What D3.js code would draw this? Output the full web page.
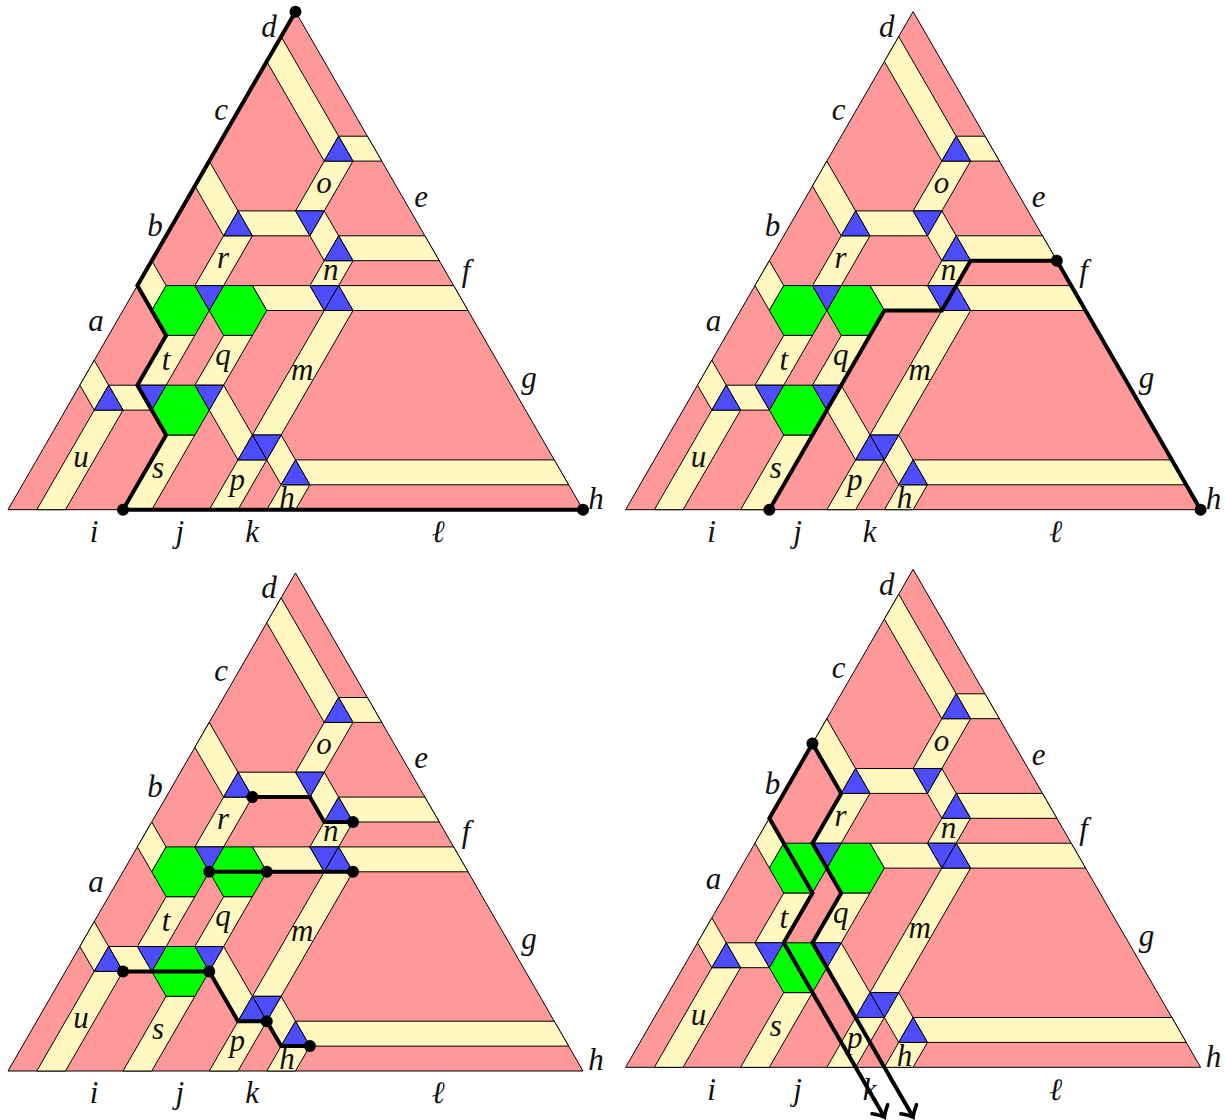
<!DOCTYPE html>
<html>
<head>
<meta charset="utf-8">
<script src="https://cdn.jsdelivr.net/npm/d3@7"></script>
<style>
  html, body { margin: 0; padding: 0; background: #fff; overflow: hidden; }
  text { font-family: 'Liberation Serif', serif; font-style: italic; font-size: 31px; fill: #111; }
</style>
</head>
<body>
<div id="chart"></div>
<script>
// all regions are given in triangular lattice coordinates [i, j], side of the big triangle is 20
const outerTriangle = [[0, 0], [20, 0], [0, 20]]

const creamBands = [
  [[1, 0], [2, 0], [2, 4], [1, 4]],
  [[0, 5], [0, 6], [1, 5], [1, 4]],
  [[1, 5], [2, 5], [3, 4], [2, 4]],
  [[4, 0], [5, 0], [5, 3], [4, 3]],
  [[2, 5], [3, 5], [3, 7], [2, 7]],
  [[4, 5], [5, 5], [5, 7], [4, 7]],
  [[0, 9], [0, 10], [1, 9], [1, 8]],
  [[2, 9], [3, 9], [3, 11], [2, 11]],
  [[0, 13], [0, 14], [2, 12], [2, 11]],
  [[2, 12], [4, 12], [5, 11], [3, 11]],
  [[4, 12], [5, 12], [5, 14], [4, 14]],
  [[4, 15], [5, 15], [6, 14], [5, 14]],
  [[0, 18], [0, 19], [4, 15], [4, 14]],
  [[5, 12], [6, 11], [6, 10], [5, 11]],
  [[6, 11], [9, 11], [10, 10], [7, 10]],
  [[6, 9], [7, 9], [7, 10], [6, 10]],
  [[7, 9], [11, 9], [12, 8], [8, 8]],
  [[4, 9], [6, 9], [7, 8], [5, 8]],
  [[7, 3], [8, 3], [8, 8], [7, 8]],
  [[7, 0], [8, 0], [8, 2], [7, 2]],
  [[5, 5], [7, 3], [7, 2], [5, 4]],
  [[8, 3], [9, 2], [9, 1], [8, 2]],
  [[9, 0], [10, 0], [10, 1], [9, 1]],
  [[9, 2], [18, 2], [19, 1], [10, 1]],
]

const greenHexes = [
  [[3, 5], [4, 5], [5, 4], [5, 3], [4, 3], [3, 4]],
  [[1, 9], [2, 9], [3, 8], [3, 7], [2, 7], [1, 8]],
  [[3, 9], [4, 9], [5, 8], [5, 7], [4, 7], [3, 8]],
]

const blueTriangles = [
  [[1, 4], [2, 4], [1, 5]],
  [[2, 5], [3, 5], [3, 4]],
  [[4, 5], [5, 5], [5, 4]],
  [[2, 9], [3, 9], [3, 8]],
  [[2, 11], [3, 11], [2, 12]],
  [[4, 12], [5, 12], [5, 11]],
  [[4, 14], [5, 14], [4, 15]],
  [[6, 10], [7, 10], [6, 11]],
  [[6, 9], [7, 9], [7, 8]],
  [[7, 8], [8, 8], [7, 9]],
  [[7, 3], [8, 3], [8, 2]],
  [[7, 2], [8, 2], [7, 3]],
  [[9, 1], [10, 1], [9, 2]],
]

// labels: name, then position along the base and row number
const labelNames = ['d', 'c', 'b', 'a', 'e', 'f', 'g', 'h', 'i', 'j', 'k', 'ℓ', 'o', 'r', 'n', 't', 'q', 'm', 'u', 's', 'p', 'h']
const labelAlong = [9.08, 7.41, 5.11, 3.06, 14.37, 15.93, 18.12, 20.45, 2.99, 5.98, 8.49, 14.96, 10.99, 7.48, 11.23, 5.5, 7.48, 10.23, 2.54, 5.22, 7.97, 9.7]
const labelRow = [18.98, 15.65, 10.99, 7.18, 12.16, 9.18, 4.89, 0.03, -1.3, -1.3, -1.3, -1.3, 12.72, 9.71, 9.22, 5.61, 5.81, 5.21, 1.71, 1.27, 0.79, 0.07]

const pathsTopLeft = [
  [[0, 20], [0, 9], [2, 7], [2, 5], [4, 3], [4, 0], [20, 0]],
]
const dotsTopLeft = [[0, 20], [4, 0], [20, 0]]

const pathsTopRight = [
  [[5, 0], [5, 8], [7, 8], [7, 10], [10, 10], [20, 0]],
]
const dotsTopRight = [[5, 0], [10, 10], [20, 0]]

const pathsBottomLeft = [
  [[3, 11], [5, 11], [6, 10], [7, 10]],
  [[3, 8], [8, 8]],
  [[2, 4], [5, 4], [7, 2], [8, 2], [9, 1], [10, 1]],
]
const dotsBottomLeft = [[3, 11], [7, 10], [3, 8], [5, 8], [8, 8], [2, 4], [5, 4], [8, 2], [10, 1]]

const pathsBottomRight = [
  [[3, 5], [3, 7], [0, 10], [0, 13], [2, 11], [2, 9], [4, 7], [4, 5], [11, -2]],
  [[3, 5], [10, -2]],
]
const dotsBottomRight = [[0, 13]]
const arrowsBottomRight = [[[3, 5], [10, -2]], [[4, 5], [11, -2]]]

const dimensions = { width: 1225, height: 1120 }

const xScale = d3.scaleLinear().domain([0, 20]).range([8, 583])
const yScale = d3.scaleLinear().domain([0, 20]).range([509.7, 11.7])

const px = d => [xScale(d[0] + d[1] / 2), yScale(d[1])]
const polyLine = d3.line().x(d => px(d)[0]).y(d => px(d)[1])

function renderRegions(ctr, regions, color) {
  ctr.append('g')
    .selectAll('path')
    .data(regions)
    .enter()
    .append('path')
    .attr('d', d => polyLine(d) + 'Z')
    .attr('fill', color)
    .attr('stroke', '#000')
    .attr('stroke-width', 1)
    .attr('stroke-linejoin', 'round')
}

function renderLabels(ctr) {
  ctr.append('g')
    .selectAll('text')
    .data(labelNames)
    .enter()
    .append('text')
    .attr('x', (d, i) => xScale(labelAlong[i]))
    .attr('y', (d, i) => yScale(labelRow[i]))
    .attr('text-anchor', 'middle')
    .text(d => d)
}

function renderPaths(ctr, paths, dots, arrows = []) {
  ctr.append('g')
    .selectAll('path')
    .data(paths)
    .enter()
    .append('path')
    .attr('d', polyLine)
    .attr('fill', 'none')
    .attr('stroke', '#000')
    .attr('stroke-width', 4)
    .attr('stroke-linejoin', 'miter')

  ctr.append('g')
    .selectAll('circle')
    .data(dots)
    .enter()
    .append('circle')
    .attr('cx', d => px(d)[0])
    .attr('cy', d => px(d)[1])
    .attr('r', 6)
    .attr('fill', '#000')

  // open arrow heads at the ends of the long lines
  ctr.append('g')
    .selectAll('path')
    .data(arrows)
    .enter()
    .append('path')
    .attr('transform', d => {
      const [a, b] = [px(d[0]), px(d[1])]
      const angle = Math.atan2(b[1] - a[1], b[0] - a[0]) * 180 / Math.PI
      return `translate(${b[0]}, ${b[1]}) rotate(${angle})`
    })
    .attr('d', 'M-9,-9 Q-3,-2 0,0 Q-3,2 -9,9')
    .attr('fill', 'none')
    .attr('stroke', '#000')
    .attr('stroke-width', 3.6)
    .attr('stroke-linecap', 'round')
}

function renderPanel(svg, offset, paths, dots, arrows) {
  const ctr = svg.append('g')
    .attr('transform', `translate(${offset[0]}, ${offset[1]})`)

  renderRegions(ctr, [outerTriangle], '#ff9999')
  renderRegions(ctr, creamBands, '#fff8c0')
  renderRegions(ctr, greenHexes, '#00ff00')
  renderRegions(ctr, blueTriangles, '#4d4dff')
  renderLabels(ctr)
  renderPaths(ctr, paths, dots, arrows)
}

const svg = d3.select('#chart')
  .append('svg')
  .attr('width', dimensions.width)
  .attr('height', dimensions.height)
  .style('display', 'block')

renderPanel(svg, [0, 0], pathsTopLeft, dotsTopLeft)
renderPanel(svg, [617.6, 0], pathsTopRight, dotsTopRight)
renderPanel(svg, [0, 561.3], pathsBottomLeft, dotsBottomLeft)
renderPanel(svg, [617.6, 557.6], pathsBottomRight, dotsBottomRight, arrowsBottomRight)
</script>
</body>
</html>
